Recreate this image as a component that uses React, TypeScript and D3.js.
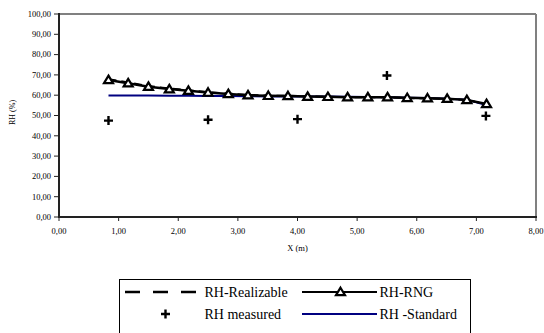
import React from "react";
import * as d3 from "d3";

// Distance along the duct (m) for the simulated profiles
const xSim = [0.83, 1.16, 1.5, 1.85, 2.17, 2.5, 2.84, 3.17, 3.51, 3.84, 4.17, 4.51, 4.84, 5.18, 5.51, 5.84, 6.18, 6.51, 6.84, 7.17];
// Relative humidity (%) per turbulence model
const rhRealizable = [67.9, 66.3, 64.5, 63.3, 62.4, 61.5, 60.8, 60.2, 59.8, 59.7, 59.4, 59.2, 59.0, 59.0, 58.9, 58.6, 58.4, 58.2, 57.6, 55.6];
const rhRNG = [67.5, 65.9, 64.2, 63.0, 62.2, 61.3, 60.6, 60.0, 59.7, 59.6, 59.3, 59.2, 59.0, 59.0, 59.0, 58.7, 58.5, 58.3, 57.7, 55.7];
const rhStandard = [59.8, 59.8, 59.8, 59.7, 59.7, 59.6, 59.6, 59.5, 59.4, 59.4, 59.3, 59.3, 59.2, 59.1, 59.0, 58.8, 58.6, 58.3, 57.8, 55.2];
// Measured points
const xMeasured = [0.83, 2.5, 4.0, 5.5, 7.16];
const rhMeasured = [47.5, 47.9, 48.2, 69.7, 49.8];

const xTicks = [0, 1, 2, 3, 4, 5, 6, 7, 8];
const yTicks = [0, 10, 20, 30, 40, 50, 60, 70, 80, 90, 100];

const FONT = "'Liberation Serif', 'Times New Roman', serif";
const fmt = (v: number) => d3.format(".2f")(v).replace(".", ",");

const Triangle = ({ x, y }: { x: number; y: number }) => (
  <path
    d={`M${x},${y - 4.3} L${x + 4.5},${y + 3.2} L${x - 4.5},${y + 3.2} Z`}
    fill="#fff"
    stroke="#000"
    strokeWidth={2.2}
    strokeLinejoin="miter"
  />
);

const Plus = ({ x, y }: { x: number; y: number }) => (
  <path d={`M${x - 4.5},${y} H${x + 4.5} M${x},${y - 4.5} V${y + 4.5}`} stroke="#000" strokeWidth={2.4} />
);

export default function App() {
  const left = 59, right = 536, top = 14, bottom = 217;
  const x = d3.scaleLinear().domain([0, 8]).range([left, right]);
  const y = d3.scaleLinear().domain([0, 100]).range([bottom, top]);

  const line = (ys: number[]) =>
    d3.line<number>().x((_, i) => x(xSim[i])).y((d) => y(d))(ys) || "";

  const legendY1 = 292;
  const legendY2 = 314;

  return (
    <svg width={544} height={333} style={{ position: "absolute", left: 0, top: 0, background: "#fff" }} fontFamily={FONT}>
      {/* plot frame */}
      <line x1={left} x2={right} y1={top} y2={top} stroke="#808080" strokeWidth={2} />
      <line x1={right} x2={right} y1={top} y2={bottom} stroke="#808080" strokeWidth={2} />
      <line x1={left} x2={left} y1={top - 1} y2={bottom + 1} stroke="#222" strokeWidth={2} />
      <line x1={left - 1} x2={right + 1} y1={bottom} y2={bottom} stroke="#222" strokeWidth={2} />

      {/* y axis */}
      {yTicks.map((t) => (
        <g key={`y${t}`}>
          <line x1={left - 5} x2={left} y1={y(t)} y2={y(t)} stroke="#222" strokeWidth={1} />
          <text x={51} y={y(t)} dy="0.33em" textAnchor="end" fontSize={8.5} fill="#000">
            {fmt(t)}
          </text>
        </g>
      ))}
      <text transform={`translate(15,${(top + bottom) / 2 - 3}) rotate(-90)`} textAnchor="middle" fontSize={8} fill="#000">
        RH (%)
      </text>

      {/* x axis */}
      {xTicks.map((t) => (
        <g key={`x${t}`}>
          <line x1={x(t)} x2={x(t)} y1={bottom} y2={bottom + 4} stroke="#222" strokeWidth={1} />
          <text x={x(t)} y={231.5} dy="0.33em" textAnchor="middle" fontSize={8.5} fill="#000">
            {fmt(t)}
          </text>
        </g>
      ))}
      <text x={(left + right) / 2} y={248} dy="0.33em" textAnchor="middle" fontSize={8.5} fill="#000">
        X (m)
      </text>

      {/* series */}
      <path d={line(rhStandard)} fill="none" stroke="#000080" strokeWidth={2} />
      <path d={line(rhRealizable)} fill="none" stroke="#000" strokeWidth={2} strokeDasharray="8,5" />
      <path d={line(rhRNG)} fill="none" stroke="#000" strokeWidth={2.5} />
      {rhRNG.map((v, i) => (
        <Triangle key={`t${i}`} x={x(xSim[i])} y={y(v)} />
      ))}
      {rhMeasured.map((v, i) => (
        <Plus key={`m${i}`} x={x(xMeasured[i])} y={y(v)} />
      ))}

      {/* legend */}
      <rect x={119.5} y={279.5} width={351} height={60} fill="#fff" stroke="#000" strokeWidth={1} />
      <line x1={125} x2={202} y1={legendY1} y2={legendY1} stroke="#000" strokeWidth={2.7} strokeDasharray="15,13" />
      <text x={204.5} y={legendY1} dy="0.35em" fontSize={14} fill="#000">RH-Realizable</text>
      <line x1={302} x2={377} y1={legendY1} y2={legendY1} stroke="#000" strokeWidth={2} />
      <Triangle x={340.5} y={legendY1} />
      <text x={379.5} y={legendY1} dy="0.35em" fontSize={14} fill="#000">RH-RNG</text>

      <Plus x={165.5} y={legendY2} />
      <text x={204.5} y={legendY2} dy="0.35em" fontSize={14} fill="#000">RH measured</text>
      <line x1={302} x2={377} y1={legendY2} y2={legendY2} stroke="#000080" strokeWidth={2} />
      <text x={379.5} y={legendY2} dy="0.35em" fontSize={14} fill="#000">RH -Standard</text>
    </svg>
  );
}
